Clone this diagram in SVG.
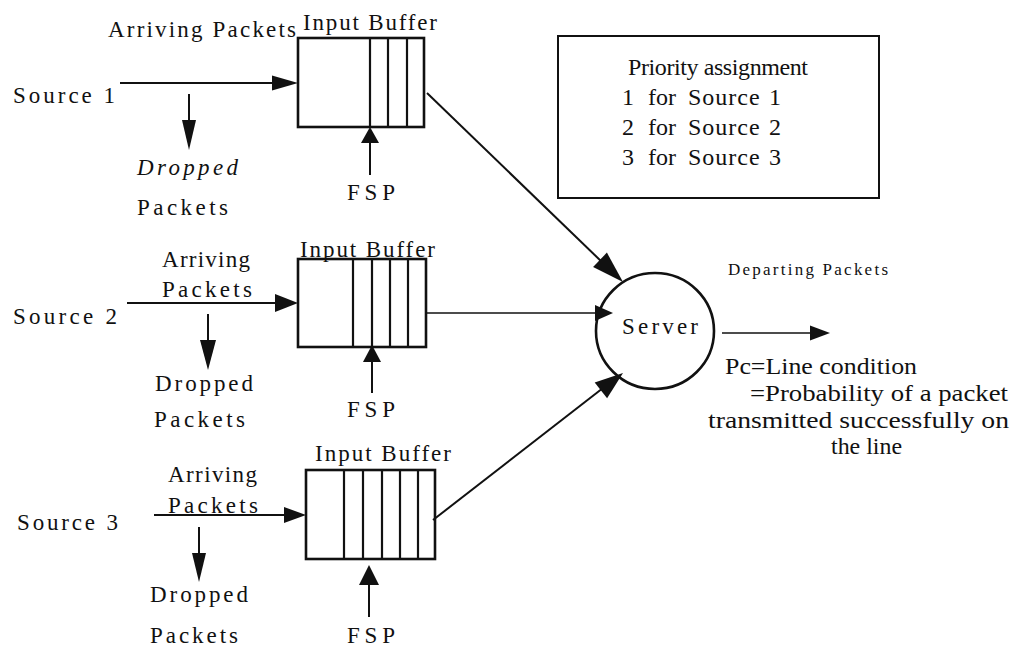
<svg xmlns="http://www.w3.org/2000/svg" width="1015" height="646" viewBox="0 0 1015 646">
  <style>
    .buf { fill: none; stroke: #111; stroke-width: 2.6; }
    .div { stroke: #111; stroke-width: 2.2; }
    .ln { fill: none; stroke: #111; stroke-width: 2; }
    .thin { fill: none; stroke: #111; stroke-width: 1.6; }
    .head { fill: #111; stroke: none; }
    .srv { fill: none; stroke: #111; stroke-width: 2.6; }
    .box { fill: none; stroke: #111; stroke-width: 2; }
  </style>
  <rect x="0" y="0" width="1015" height="646" fill="#ffffff"/>

  <!-- Source 1 branch -->
  <g id="source1">
    <text x="13" y="103" font-family="Liberation Serif" font-size="23" fill="#111" textLength="102" lengthAdjust="spacing">Source 1</text>
    <text x="108" y="37" font-family="Liberation Serif" font-size="23" fill="#111" textLength="188" lengthAdjust="spacing">Arriving Packets</text>
    <text x="137" y="175" font-family="Liberation Serif" font-size="23" font-style="italic" fill="#111" textLength="101" lengthAdjust="spacing">Dropped</text>
    <text x="137" y="215" font-family="Liberation Serif" font-size="23" fill="#111" textLength="91" lengthAdjust="spacing">Packets</text>
  </g>
  <g id="buffer1">
    <text x="303" y="30" font-family="Liberation Serif" font-size="23" fill="#111" textLength="134" lengthAdjust="spacing">Input Buffer</text>
    <rect class="buf" x="298" y="38" width="126" height="89"/>
    <line class="div" x1="370" y1="38" x2="370" y2="127"/>
    <line class="div" x1="388" y1="38" x2="388" y2="127"/>
    <line class="div" x1="407" y1="38" x2="407" y2="127"/>
    <text x="347" y="200" font-family="Liberation Serif" font-size="23" fill="#111" textLength="48" lengthAdjust="spacing">FSP</text>
  </g>

  <!-- Source 2 branch -->
  <g id="source2">
    <text x="13" y="324" font-family="Liberation Serif" font-size="23" fill="#111" textLength="104" lengthAdjust="spacing">Source 2</text>
    <text x="162" y="267" font-family="Liberation Serif" font-size="23" fill="#111" textLength="88" lengthAdjust="spacing">Arriving</text>
    <text x="162" y="297" font-family="Liberation Serif" font-size="23" fill="#111" textLength="90" lengthAdjust="spacing">Packets</text>
    <text x="155" y="391" font-family="Liberation Serif" font-size="23" fill="#111" textLength="98" lengthAdjust="spacing">Dropped</text>
    <text x="154" y="427" font-family="Liberation Serif" font-size="23" fill="#111" textLength="91" lengthAdjust="spacing">Packets</text>
  </g>
  <g id="buffer2">
    <text x="300" y="257" font-family="Liberation Serif" font-size="23" fill="#111" textLength="135" lengthAdjust="spacing">Input Buffer</text>
    <rect class="buf" x="298" y="259" width="128" height="88"/>
    <line class="div" x1="353" y1="259" x2="353" y2="347"/>
    <line class="div" x1="372" y1="259" x2="372" y2="347"/>
    <line class="div" x1="390" y1="259" x2="390" y2="347"/>
    <line class="div" x1="408" y1="259" x2="408" y2="347"/>
    <text x="347" y="417" font-family="Liberation Serif" font-size="23" fill="#111" textLength="48" lengthAdjust="spacing">FSP</text>
  </g>

  <!-- Source 3 branch -->
  <g id="source3">
    <text x="17" y="530" font-family="Liberation Serif" font-size="23" fill="#111" textLength="101" lengthAdjust="spacing">Source 3</text>
    <text x="168" y="482" font-family="Liberation Serif" font-size="23" fill="#111" textLength="89" lengthAdjust="spacing">Arriving</text>
    <text x="168" y="513" font-family="Liberation Serif" font-size="23" fill="#111" textLength="90" lengthAdjust="spacing">Packets</text>
    <text x="150" y="602" font-family="Liberation Serif" font-size="23" fill="#111" textLength="98" lengthAdjust="spacing">Dropped</text>
    <text x="150" y="643" font-family="Liberation Serif" font-size="23" fill="#111" textLength="88" lengthAdjust="spacing">Packets</text>
  </g>
  <g id="buffer3">
    <text x="315" y="461" font-family="Liberation Serif" font-size="23" fill="#111" textLength="136" lengthAdjust="spacing">Input Buffer</text>
    <rect class="buf" x="306" y="470" width="129" height="89"/>
    <line class="div" x1="344" y1="470" x2="344" y2="559"/>
    <line class="div" x1="363" y1="470" x2="363" y2="559"/>
    <line class="div" x1="382" y1="470" x2="382" y2="559"/>
    <line class="div" x1="400" y1="470" x2="400" y2="559"/>
    <line class="div" x1="418" y1="470" x2="418" y2="559"/>
    <text x="347" y="643" font-family="Liberation Serif" font-size="23" fill="#111" textLength="48" lengthAdjust="spacing">FSP</text>
  </g>

  <!-- Server -->
  <g id="server">
    <ellipse class="srv" cx="655" cy="331" rx="59" ry="58"/>
    <text x="622" y="334" font-family="Liberation Serif" font-size="23" fill="#111" textLength="76" lengthAdjust="spacing">Server</text>
  </g>

  <!-- Output description -->
  <g id="output">
    <text x="728" y="275" font-family="Liberation Serif" font-size="17" fill="#111" textLength="160" lengthAdjust="spacing">Departing Packets</text>
    <text x="725" y="374" font-family="Liberation Serif" font-size="24" fill="#111" textLength="192" lengthAdjust="spacingAndGlyphs">Pc=Line condition</text>
    <text x="750" y="401" font-family="Liberation Serif" font-size="24" fill="#111" textLength="258" lengthAdjust="spacingAndGlyphs">=Probability of a packet</text>
    <text x="708" y="428" font-family="Liberation Serif" font-size="24" fill="#111" textLength="301" lengthAdjust="spacingAndGlyphs">transmitted successfully on</text>
    <text x="831" y="454" font-family="Liberation Serif" font-size="24" fill="#111" textLength="71" lengthAdjust="spacingAndGlyphs">the line</text>
  </g>

  <!-- Priority table -->
  <g id="priority">
    <rect class="box" x="558" y="36" width="321" height="162"/>
    <text x="628" y="75" font-family="Liberation Serif" font-size="24" fill="#111" textLength="180" lengthAdjust="spacing">Priority assignment</text>
    <text y="105" font-family="Liberation Serif" font-size="24" fill="#111"><tspan x="622">1</tspan><tspan x="648">for</tspan><tspan x="688" letter-spacing="1">Source</tspan><tspan x="769">1</tspan></text>
    <text y="135" font-family="Liberation Serif" font-size="24" fill="#111"><tspan x="622">2</tspan><tspan x="648">for</tspan><tspan x="688" letter-spacing="1">Source</tspan><tspan x="769">2</tspan></text>
    <text y="165" font-family="Liberation Serif" font-size="24" fill="#111"><tspan x="622">3</tspan><tspan x="648">for</tspan><tspan x="688" letter-spacing="1">Source</tspan><tspan x="769">3</tspan></text>
  </g>

  <!-- Connectors -->
  <g id="connectors">
    <!-- arrivals -->
    <line class="ln" x1="120" y1="83" x2="276" y2="83"/>
    <polygon class="head" points="298,83 272,75.5 272,90.5"/>
    <line class="ln" x1="127" y1="303" x2="280" y2="303"/>
    <polygon class="head" points="298,303 275,294 275,312"/>
    <line class="ln" x1="154" y1="515" x2="288" y2="515"/>
    <polygon class="head" points="306,515 284,507 284,523"/>

    <!-- drops -->
    <line class="ln" x1="189" y1="94" x2="189" y2="124"/>
    <polygon class="head" points="189,150 182,120 196,120"/>
    <line class="ln" x1="208" y1="314" x2="208" y2="344"/>
    <polygon class="head" points="208,370 200,340 216,340"/>
    <line class="ln" x1="199" y1="527" x2="199" y2="556"/>
    <polygon class="head" points="199,582 192,553 206,553"/>

    <!-- FSP controls -->
    <line class="ln" x1="370" y1="175" x2="370" y2="140"/>
    <polygon class="head" points="370,127 361,143 379,143"/>
    <line class="ln" x1="372" y1="393" x2="372" y2="358"/>
    <polygon class="head" points="372,345 363,362 381,362"/>
    <line class="ln" x1="369" y1="617" x2="369" y2="582"/>
    <polygon class="head" points="369,565 359,585 379,585"/>

    <!-- buffers to server -->
    <line class="ln" x1="427" y1="93" x2="603" y2="263"/>
    <polygon class="head" points="623,282 593.1,267 606.9,252.6"/>
    <line class="thin" x1="426" y1="313" x2="598" y2="313"/>
    <polygon class="head" points="613,313 595,305 595,321"/>
    <line class="ln" x1="433" y1="520" x2="603" y2="388"/>
    <polygon class="head" points="623,373 607.1,398.2 594.7,382.4"/>

    <!-- departure -->
    <line class="thin" x1="722" y1="333" x2="812" y2="333"/>
    <polygon class="head" points="830,333 810,325.5 810,340.5"/>
  </g>
</svg>
